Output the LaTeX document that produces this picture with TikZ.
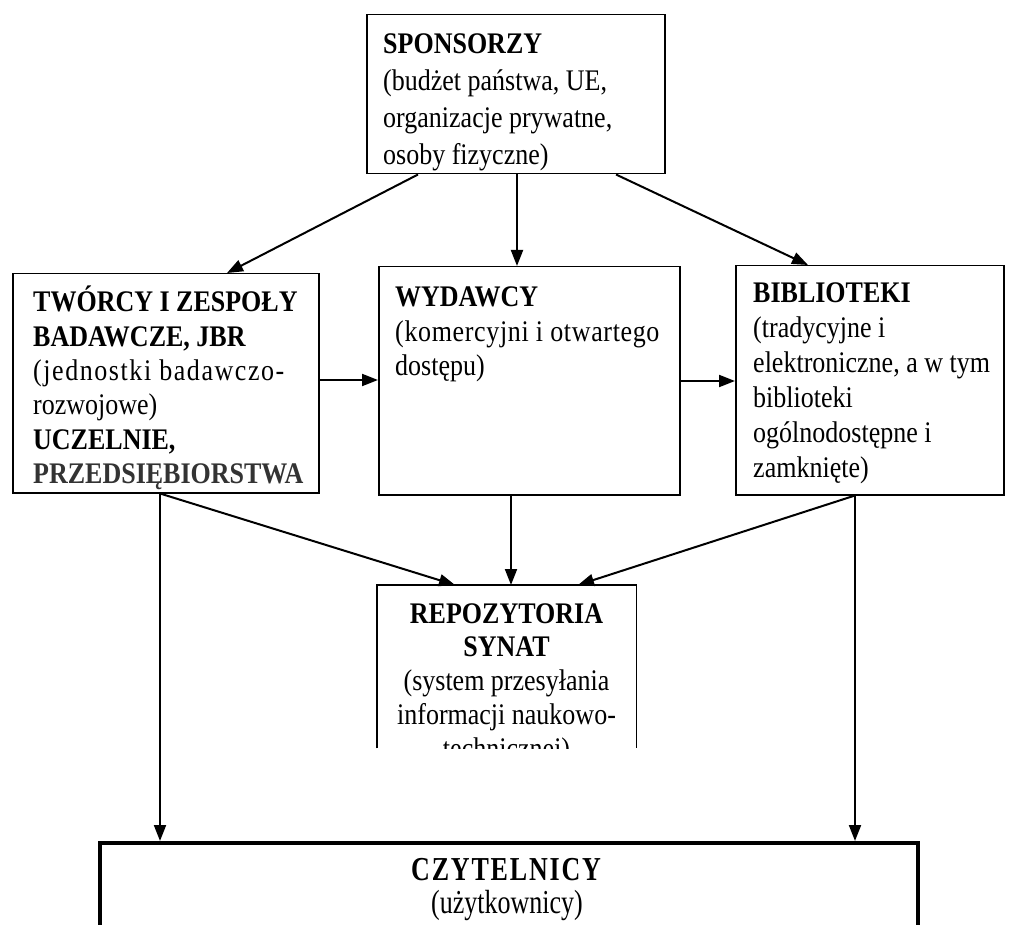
\documentclass[tikz,border=0pt]{standalone}
\usepackage{graphicx}
\usepackage{fontspec}
\setmainfont{Liberation Serif}
\usetikzlibrary{arrows.meta}
\newcommand{\vstr}[3]{\scalebox{1}[1.15]{\fontsize{26}{#2}\selectfont\begin{tabular}[t]{@{}#1@{}}#3\end{tabular}}}
\begin{document}
\begin{tikzpicture}[x=1pt,y=-1pt,
  box/.style={draw, line width=1.5pt, inner sep=0pt, anchor=north west},
  txt/.style={inner sep=0pt, anchor=base west},
  arr/.style={line width=2pt, -{Triangle[length=16pt,width=12pt]}}]
\clip (0,0) rectangle (1018,925);
\fill[white] (0,0) rectangle (1018,925);

% boxes
\node[box, minimum width=298pt, minimum height=159pt] (spons) at (366,14) {};
\node[box, minimum width=306pt, minimum height=219pt] (tworcy) at (12,273) {};
\node[box, minimum width=301pt, minimum height=228pt] (wyd) at (378,266) {};
\node[box, minimum width=268pt, minimum height=229pt] (bib) at (735,265) {};
\node[inner sep=0pt, anchor=north west, minimum width=259pt, minimum height=163pt] (repo) at (377,585) {};
\draw[line width=1.5pt] (repo.south west) -- (repo.north west) -- (repo.north east) -- (repo.south east);
\node[draw, line width=3.5pt, inner sep=0pt, anchor=north west, minimum width=818pt, minimum height=140pt] (czyt) at (98,841) {};

% texts
\node[txt] (spons-t) at (383,54)
  {\vstr{l}{32.0}{\textbf{SPONSORZY}\\(budżet państwa, UE,\\organizacje prywatne,\\osoby fizyczne)}};
\node[txt] (tworcy-t) at (33,312)
  {\vstr{l}{29.8}{\textbf{TWÓRCY I ZESPOŁY}\\\textbf{BADAWCZE, JBR}\\{\addfontfeatures{LetterSpace=6}(jednostki badawczo-}\\rozwojowe)\\\textbf{UCZELNIE,}\\\textbf{\textcolor{black!80}{PRZEDSIĘBIORSTWA}}}};
\node[txt] (wyd-t) at (395,307)
  {\vstr{l}{29.6}{\textbf{WYDAWCY}\\{\addfontfeatures{LetterSpace=2.5}(komercyjni i otwartego}\\dostępu)}};
\node[txt] (bib-t) at (753,303)
  {\vstr{l}{30.3}{\textbf{BIBLIOTEKI}\\(tradycyjne i\\elektroniczne, a w tym\\biblioteki\\ogólnodostępne i\\zamknięte)}};
\begin{scope}
\clip (repo.north west) rectangle (repo.south east);
\node[txt, anchor=base] (repo-t) at (506.5,623)
  {\vstr{c}{29.4}{\textbf{REPOZYTORIA}\\\textbf{SYNAT}\\(system przesyłania\\informacji naukowo-\\technicznej)}};
\end{scope}
\node[txt, anchor=base] (czyt-t) at (507,880)
  {\scalebox{1}[1.12]{\vstr{c}{26}{\textbf{\addfontfeatures{LetterSpace=7}CZYTELNICY}\\(użytkownicy)}}};

% connectors
\draw[arr] ([xshift=52pt]spons.south west) -- ([xshift=215pt]tworcy.north west);
\draw[arr] ([xshift=151pt]spons.south west) -- ([xshift=139pt]wyd.north west);
\draw[arr] ([xshift=250pt]spons.south west) -- ([xshift=73pt]bib.north west);
\draw[arr] ([yshift=-107pt]tworcy.north east) -- ([yshift=-114pt]wyd.north west);
\draw[arr] ([yshift=-115pt]wyd.north east) -- ([yshift=-116pt]bib.north west);
\draw[arr] ([xshift=148pt]tworcy.south west) -- ([xshift=78pt]repo.north west);
\draw[arr] ([xshift=133pt]wyd.south west) -- ([xshift=134pt]repo.north west);
\draw[arr] ([xshift=120pt]bib.south west) -- ([xshift=201pt]repo.north west);
\draw[arr] ([xshift=148pt]tworcy.south west) -- ([xshift=62pt]czyt.north west);
\draw[arr] ([xshift=120pt]bib.south west) -- ([xshift=757pt]czyt.north west);
\end{tikzpicture}
\end{document}
